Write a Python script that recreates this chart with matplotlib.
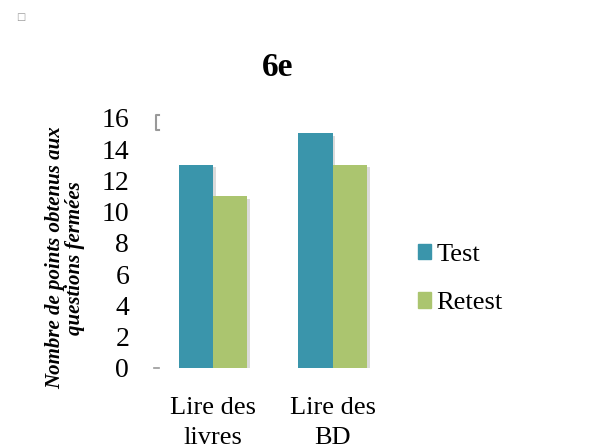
import numpy as np
import matplotlib.pyplot as plt
import matplotlib.patheffects as pe
from matplotlib.patches import Patch

categories = ['Lire des\nlivres', 'Lire des\nBD']
test = [13, 15]
retest = [11, 13]
yticks = [0, 2, 4, 6, 8, 10, 12, 14, 16]

c_test = '#3a95ab'
c_retest = '#abc56f'

plt.rcParams['font.family'] = ['Liberation Serif', 'DejaVu Serif']

fig = plt.figure(figsize=(6.04, 4.48), dpi=100)
ax = fig.add_axes([0.253, 0.179, 0.397, 0.558])

x = np.arange(len(categories))
w = 0.285
shadow = [pe.SimplePatchShadow(offset=(2, -2), shadow_rgbFace='#999999', alpha=0.35), pe.Normal()]
ax.bar(x - w / 2, test, w, color=c_test, path_effects=shadow)
ax.bar(x + w / 2, retest, w, color=c_retest, path_effects=shadow)

ax.set_xlim(-0.5, 1.5)
ax.set_ylim(0, 16)
ax.set_yticks(yticks)
ax.set_xticks(x)
ax.set_xticklabels(categories, fontsize=19, linespacing=1.45)
ax.tick_params(axis='y', labelsize=20, length=0, pad=17)
ax.tick_params(axis='x', length=0, pad=21)
for s in ax.spines.values():
    s.set_visible(False)

ax.set_ylabel('Nombre de points obtenus aux\nquestions fermées', fontsize=15,
              fontweight='bold', fontstyle='italic', labelpad=12, linespacing=1.0, y=0.44)

fig.text(0.46, 0.85, '6e', fontsize=24, fontweight='bold', ha='center', va='center')

# small artifacts from the original editor
fig.text(0.034, 0.962, '\u25a1', fontsize=7, color='#999999', ha='center', va='center',
         family=['DejaVu Sans'])
ax.plot([-0.45, -0.47, -0.47, -0.45], [15.2, 15.2, 16.2, 16.2], color='#999999', lw=1.5,
        clip_on=False)
ax.plot([-0.49, -0.45], [0, 0], color='#999999', lw=1.2, clip_on=False)

handles = [Patch(color=c_test), Patch(color=c_retest)]
fig.legend(handles, ['Test', 'Retest'], loc='center left', bbox_to_anchor=(0.652, 0.377),
           frameon=False, fontsize=19, handlelength=0.52, handleheight=0.52,
           handletextpad=0.2, labelspacing=1.0)

fig.savefig('out.png', dpi=100)
